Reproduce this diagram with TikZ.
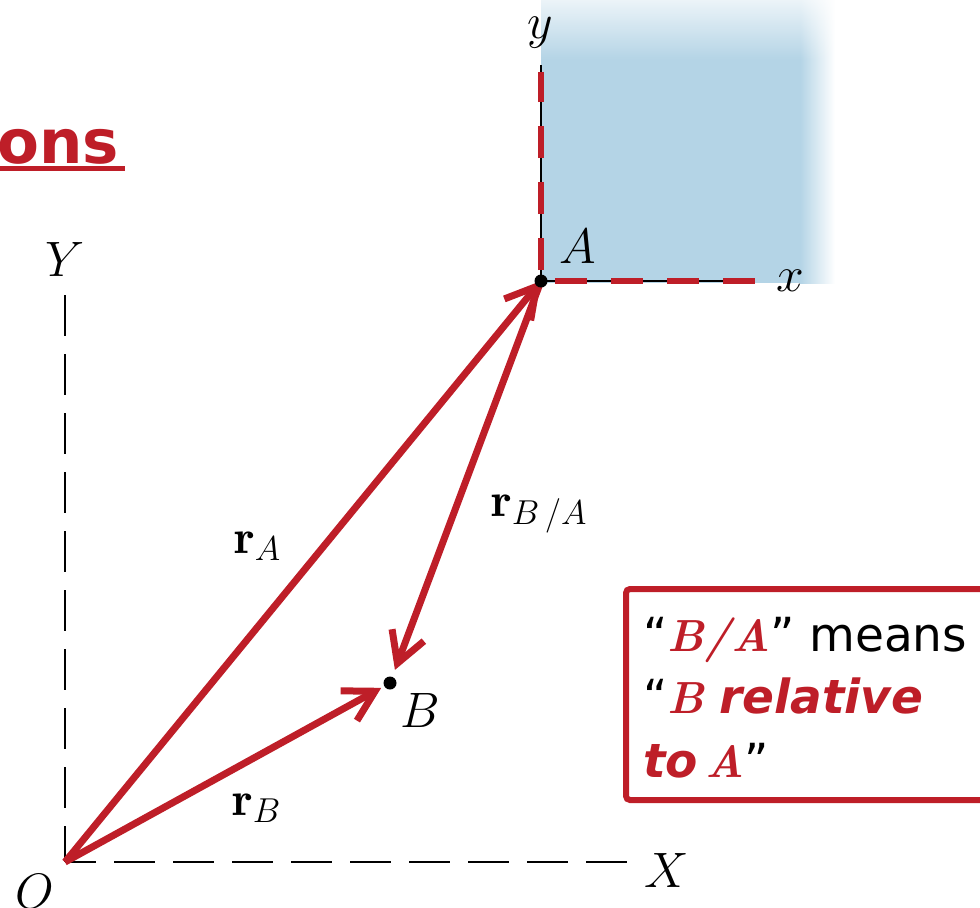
\documentclass[tikz,border=0pt]{standalone}
\usepackage{fontspec}
\newfontfamily\dejavu{DejaVu Sans}
\usetikzlibrary{arrows.meta,fadings}
\definecolor{rd}{RGB}{190,30,40}
\definecolor{sky}{RGB}{180,212,230}
\tikzfading[name=fadedown, top color=transparent!25, bottom color=transparent!100]
\newcommand{\serB}{\rmfamily\bfseries\itshape\fontsize{22.5}{30}\selectfont\color{rd}}
\newcommand{\bxfont}{\dejavu\fontsize{23.5}{28}\selectfont}
\begin{document}
\begin{tikzpicture}[x=0.5pt,y=-0.5pt,
 vec/.style={draw=rd, line width=3.5pt, -{Straight Barb[length=15pt,width=17pt]}},
 ax/.style={draw=black, line width=1pt, dash pattern=on 20.5pt off 9pt},
 rdash/.style={draw=rd, line width=3pt, dash pattern=on 16pt off 12pt},
 lbl/.style={font=\fontsize{25}{30}\selectfont, inner sep=0pt},
 vlbl/.style={font=\fontsize{24}{28}\selectfont, inner sep=0pt, anchor=base west},
 txt/.style={font=\bxfont, inner sep=0pt, anchor=base west},
 pt/.style={fill=black, circle, inner sep=0pt, minimum size=6.5pt}]
\useasboundingbox (0,0) rectangle (980,907);

% blue frame region
\fill[sky] (541,0) rectangle (800,283);
\shade[left color=sky, right color=white] (800,0) rectangle (835,283);
\fill[white, path fading=fadedown] (541,0) rectangle (836,60);

\coordinate (O) at (65,862);
\coordinate (A) at (541,281);
\coordinate (B) at (390,683);
\coordinate (Ytop) at (65,295);
\coordinate (Xend) at (632,862);
\coordinate (yend) at (541,72);
\coordinate (xend) at (755,281);
\coordinate (ybl) at (541,65);

% fixed axes
\draw[ax] (Ytop) -- (O);
\draw[ax, dash phase=5pt] (O) -- (Xend);

% moving axes
\draw[black, line width=1pt] (A) -- (ybl);
\draw[black, line width=1pt] (A) -- (xend);
\draw[rdash, dash phase=22.5pt] (A) -- (yend);
\draw[rdash, dash phase=21pt] (A) -- (xend);

% vectors
\draw[vec] (O) -- (A);
\draw[vec, shorten >=5pt] (O) -- (B);
\draw[vec, shorten >=7pt] (A) -- (B);

\node[pt] (Adot) at (A) {};
\node[pt] (Bdot) at (B) {};

% labels
\node[lbl] (Ylab) at (65,259) {$Y$};
\node[lbl] (Xlab) at (667,870) {$X$};
\node[lbl, anchor=north] (Olab) at (35,874) {$O$};
\node[lbl] (ylab) at (540,33) {$y$};
\node[lbl] (xlab) at (790,281) {$x$};
\node[lbl] (Alab) at (578,246) {$A$};
\node[lbl] (Blab) at (420,710) {$B$};

\node[vlbl] (rA) at (234,553) {$\mathbf{r}_A$};
\node[vlbl] (rBA) at (491,516) {$\mathbf{r}_{B\,/A}$};
\node[vlbl] (rB) at (232,815) {$\mathbf{r}_B$};

% title fragment
\node[anchor=base west, inner sep=0pt, font=\dejavu\bfseries\fontsize{30.5}{36}\selectfont, text=rd] (title) at (-3,163) {ons};
\fill[rd] (0,166) rectangle (125,171);

% note box
\draw[rd, line width=3pt, rounded corners=2pt] (985,589) -- (626,589) -- (626,800) -- (985,800);
\node[txt] (l1) at (643,651) {“{\serB B/A}” means};
\node[txt] (l2) at (643,713) {“{\serB B} {\bfseries\itshape\color{rd}relative}};
\node[txt] (l3) at (643,777) {{\bfseries\itshape\color{rd}to\,{\serB A}}”};
\end{tikzpicture}
\end{document}
